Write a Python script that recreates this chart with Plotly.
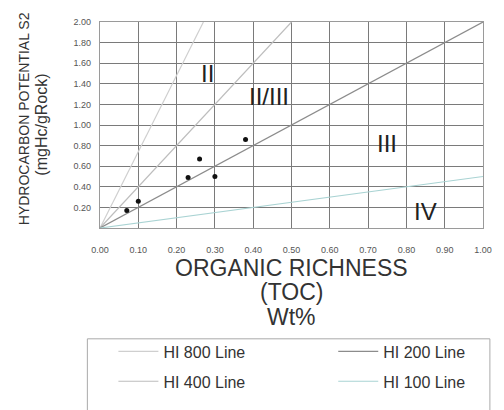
import plotly.graph_objects as go

# Sample data (TOC wt%, S2 mg HC/g rock)
toc = [0.07, 0.10, 0.23, 0.26, 0.30, 0.38]
s2 = [0.17, 0.26, 0.49, 0.67, 0.50, 0.86]

# HI reference lines (end points)
line_names = ["HI 800 Line", "HI 400 Line", "HI 200 Line", "HI 100 Line"]
line_x = [[0, 0.27], [0, 0.5], [0, 1.0], [0, 1.0]]
line_y = [[0, 2.0], [0, 2.0], [0, 2.0], [0, 0.5]]
line_colors = ["#cfcfcf", "#bdbdbd", "#8c8c8c", "#a9d3d3"]
line_legend = ["legend", "legend", "legend2", "legend2"]

# Region labels
region_text = ["II", "II/III", "III", "IV"]
region_x = [0.28, 0.44, 0.75, 0.85]
region_y = [1.50, 1.28, 0.82, 0.16]

x_ticks = [0.0, 0.1, 0.2, 0.3, 0.4, 0.5, 0.6, 0.7, 0.8, 0.9, 1.0]
y_ticks = [0.2, 0.4, 0.6, 0.8, 1.0, 1.2, 1.4, 1.6, 1.8, 2.0]

font = "Liberation Sans Narrow, Arial Narrow, Liberation Sans, Arial, sans-serif"
sans = "Liberation Sans, Arial, sans-serif"

fig = go.Figure()
for name, xs, ys, c, lg in zip(line_names, line_x, line_y, line_colors, line_legend):
    fig.add_trace(go.Scatter(x=xs, y=ys, mode="lines", name=name, legend=lg,
                             legendgroup=name,
                             line=dict(color=c, width=1.2)))
fig.add_trace(go.Scatter(x=toc, y=s2, mode="markers", showlegend=False,
                         marker=dict(color="#111111", size=5)))

for t, x, y in zip(region_text, region_x, region_y):
    fig.add_annotation(x=x, y=y, text=t, showarrow=False,
                       font=dict(family=font, size=24, color="#222222"))

fig.add_annotation(xref="paper", yref="paper", x=-0.198, y=0.529,
                   text="HYDROCARBON POTENTIAL S2", textangle=-90, showarrow=False,
                   xanchor="center", yanchor="middle",
                   font=dict(family=sans, size=14, color="#333333"))
fig.add_annotation(xref="paper", yref="paper", x=-0.155, y=0.5,
                   text="(mgHc/gRock)", textangle=-90, showarrow=False,
                   xanchor="center", yanchor="middle",
                   font=dict(family=sans, size=16, color="#333333"))
title_y = [-0.192, -0.3125, -0.433]
for t, ty in zip(["ORGANIC RICHNESS", "(TOC)", "Wt%"], title_y):
    fig.add_annotation(xref="paper", yref="paper", x=0.5, y=ty,
                       text=t, showarrow=False, yanchor="middle",
                       font=dict(family=sans, size=23, color="#333333"))

# legend frame
fig.add_shape(type="rect", xref="paper", yref="paper",
              x0=-0.033, x1=1.018, y0=-0.538, y1=-0.9,
              line=dict(color="#aaaaaa", width=1))

axis_common = dict(showgrid=True, gridcolor="#7a7a7a", gridwidth=1.3,
                   showline=True, linecolor="#9a9a9a", linewidth=1.3, mirror=True,
                   zeroline=False, ticks="",
                   tickfont=dict(family=sans, size=9, color="#555555"))

fig.update_xaxes(range=[0, 1], tickvals=x_ticks, ticktext=[f"{v:.2f}" for v in x_ticks],
                 ticklabelstandoff=13, **axis_common)
fig.update_yaxes(range=[0, 2], tickvals=y_ticks, ticktext=[f"{v:.2f}" for v in y_ticks],
                 ticklabelstandoff=6, **axis_common)

leg_common = dict(orientation="v", yanchor="bottom", xanchor="left",
                  bgcolor="rgba(0,0,0,0)", borderwidth=0, itemwidth=40,
                  tracegroupgap=6,
                  font=dict(family=sans, size=16, color="#333333"))

fig.update_layout(
    width=504, height=410,
    margin=dict(l=100, r=15, t=22, b=180),
    plot_bgcolor="white", paper_bgcolor="white",
    font=dict(family=sans),
    legend=dict(x=0.035, y=-0.828, **leg_common),
    legend2=dict(x=0.609, y=-0.828, **leg_common),
)

fig.write_html("out.html")
